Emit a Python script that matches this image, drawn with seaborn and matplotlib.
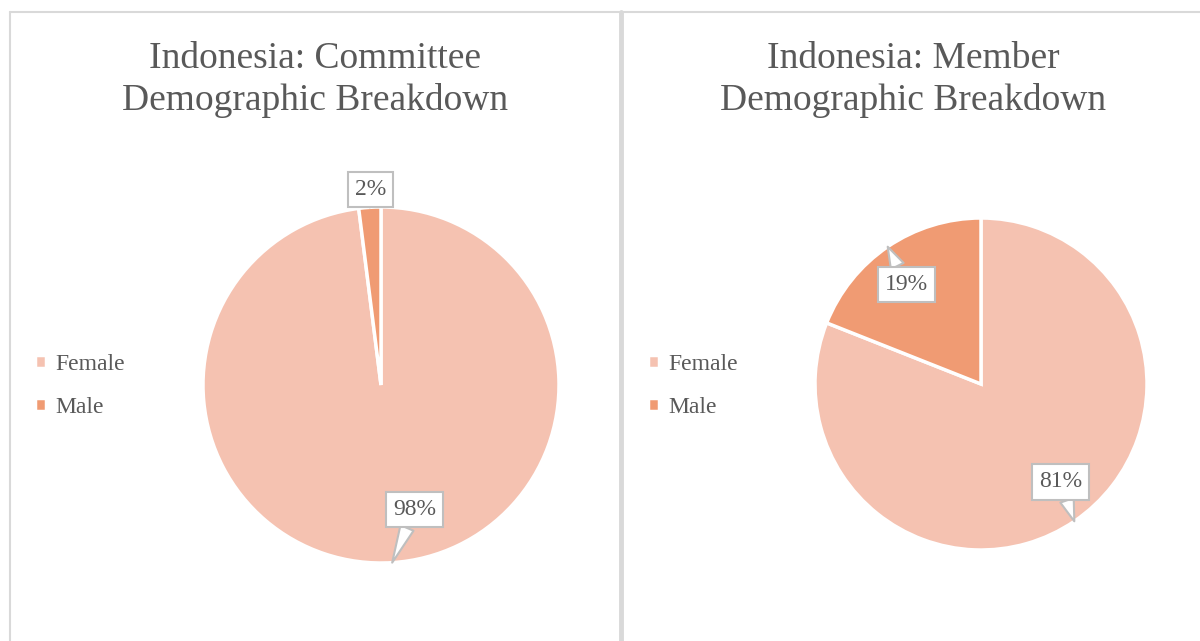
import numpy as np
import matplotlib
matplotlib.use("Agg")
import matplotlib.pyplot as plt
import seaborn as sns

# data
labels = ["Female", "Male"]
committee_share = [98, 2]
member_share = [81, 19]
titles = ["Indonesia: Committee\nDemographic Breakdown",
          "Indonesia: Member\nDemographic Breakdown"]

colors = ["#F5C2B1", "#F09B73"]
grey_text = "#595959"
line_grey = "#D9D9D9"

sns.set_theme(style="white")
plt.rcParams["font.family"] = ["Liberation Serif", "DejaVu Serif"]

W, H = 1200, 641
fig = plt.figure(figsize=(W / 100, H / 100), dpi=100)
fig.patch.set_facecolor("white")


def px_axes(cx, cy, r, lim=1.3):
    side = 2 * r * lim
    return fig.add_axes([(cx - side / 2) / W, (H - cy - side / 2) / H, side / W, side / H])


def draw_panel(ax, values, title, label_pos, title_x, legend_x):
    wedges, _ = ax.pie(values, colors=colors, startangle=90, counterclock=False,
                       wedgeprops=dict(edgecolor="white", linewidth=2.5))
    ax.set_xlim(-1.3, 1.3)
    ax.set_ylim(-1.3, 1.3)
    ax.set_aspect("equal")
    ax.axis("off")
    for w, v, (tx, ty) in zip(wedges, values, label_pos):
        mid = np.deg2rad((w.theta1 + w.theta2) / 2)
        tip = (np.cos(mid), np.sin(mid))
        ax.annotate(f"{v}%", xy=tip, xytext=(tx, ty), ha="center", va="center",
                    fontsize=17, color=grey_text,
                    bbox=dict(boxstyle="square,pad=0.3", fc="white", ec="#BFBFBF", lw=1.5),
                    arrowprops=dict(arrowstyle="wedge,tail_width=0.6,shrink_factor=0.5",
                                    fc="white", ec="#BFBFBF", lw=1.5,
                                    shrinkA=0, shrinkB=0))
    fig.text(title_x / W, 1 - 80 / H, title, ha="center", va="center",
             fontsize=27, color=grey_text, linespacing=1.27)
    fig.legend(wedges, labels, loc="center left",
               bbox_to_anchor=(legend_x / W, 1 - 386 / H), frameon=False,
               fontsize=17, labelcolor=grey_text, handlelength=0.45, handleheight=0.45,
               handletextpad=0.4, labelspacing=0.93, borderpad=0, borderaxespad=0)


ax1 = px_axes(381, 385, 178)
draw_panel(ax1, committee_share, titles[0], [(0.19, -0.70), (-0.06, 1.10)], 315, 35)

ax2 = px_axes(981, 384, 166)
draw_panel(ax2, member_share, titles[1], [(0.48, -0.59), (-0.45, 0.60)], 913, 648)

# panel borders
fig.add_artist(plt.Line2D([10 / W, 1], [1 - 12 / H] * 2, color=line_grey, lw=1.5))
fig.add_artist(plt.Line2D([10 / W] * 2, [0, 1 - 12 / H], color=line_grey, lw=1.5))
fig.add_artist(plt.Line2D([620.5 / W] * 2, [0, 1 - 12 / H], color=line_grey, lw=3.5))

fig.savefig("out.png", dpi=100, facecolor="white")
